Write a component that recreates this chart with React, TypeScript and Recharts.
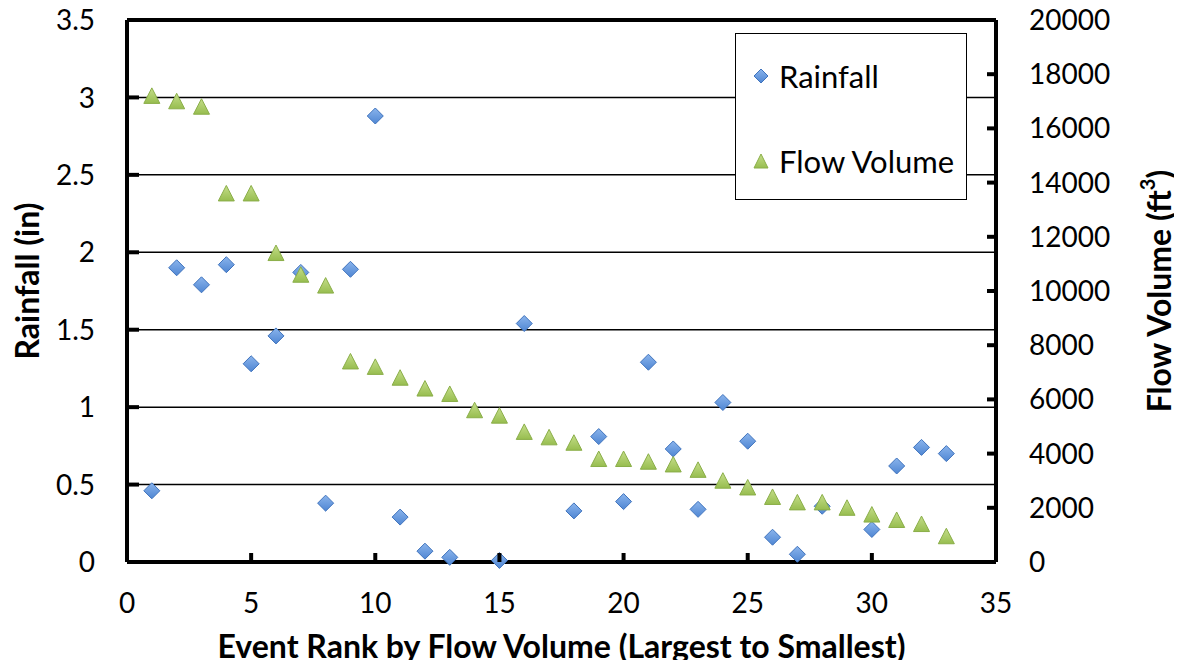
import React from "react";
import { ScatterChart, Scatter, XAxis, YAxis, CartesianGrid, Legend, ReferenceLine } from "recharts";

const rank = [1, 2, 3, 4, 5, 6, 7, 8, 9, 10, 11, 12, 13, 14, 15, 16, 17, 18, 19, 20, 21, 22, 23, 24, 25, 26, 27, 28, 29, 30, 31, 32, 33];
const rainfall = [0.46, 1.9, 1.79, 1.92, 1.28, 1.46, 1.87, 0.38, 1.89, 2.88, 0.29, 0.07, 0.03, null, 0.01, 1.54, null, 0.33, 0.81, 0.39, 1.29, 0.73, 0.34, 1.03, 0.78, 0.16, 0.05, 0.36, null, 0.21, 0.62, 0.74, 0.7];
const flowVolume = [17200, 17000, 16800, 13600, 13600, 11400, 10600, 10200, 7400, 7200, 6800, 6400, 6200, 5600, 5400, 4800, 4600, 4400, 3800, 3800, 3700, 3600, 3400, 3000, 2750, 2400, 2200, 2200, 2000, 1750, 1550, 1400, 950];

const xTicks = [0, 5, 10, 15, 20, 25, 30, 35];
const rainTicks = [0, 0.5, 1, 1.5, 2, 2.5, 3, 3.5];
const flowTicks = [0, 2000, 4000, 6000, 8000, 10000, 12000, 14000, 16000, 18000, 20000];

const rainData = rank.map((r, i) => ({ rank: r, rainfall: rainfall[i] })).filter((d) => d.rainfall !== null);
const flowData = rank.map((r, i) => ({ rank: r, flow: flowVolume[i] }));

const FONT = "Lato, sans-serif";

const Diamond = ({ cx, cy }: any) => (
  <polygon
    points={`${cx},${cy - 8} ${cx + 8},${cy} ${cx},${cy + 8} ${cx - 8},${cy}`}
    fill="url(#blueFill)"
    stroke="#3f73bd"
    strokeWidth={1}
  />
);

const Triangle = ({ cx, cy }: any) => (
  <polygon
    points={`${cx},${cy - 8} ${cx + 8},${cy + 7.5} ${cx - 8},${cy + 7.5}`}
    fill="url(#greenFill)"
    stroke="#8aae48"
    strokeWidth={1}
  />
);

const LeftTick = ({ x, y, payload }: any) => (
  <g>
    <line x1={x + 32} x2={x + 44} y1={y} y2={y} stroke="#000" strokeWidth={4} />
    <text x={x} y={y} dy="0.36em" textAnchor="end" fontSize={28} fontFamily={FONT} fill="#000">
      {payload.value}
    </text>
  </g>
);

const RightTick = ({ x, y, payload }: any) => (
  <g>
    <line x1={x - 33} x2={x - 42} y1={y} y2={y} stroke="#000" strokeWidth={4} />
    <text x={x} y={y} dy="0.36em" textAnchor="start" fontSize={28} fontFamily={FONT} fill="#000">
      {payload.value}
    </text>
  </g>
);

const BottomTick = ({ x, y, payload }: any) => (
  <g>
    <line x1={x} x2={x} y1={y - 41} y2={y - 50} stroke="#000" strokeWidth={4} />
    <text x={x} y={y} dy="0.36em" textAnchor="middle" fontSize={28} fontFamily={FONT} fill="#000">
      {payload.value}
    </text>
  </g>
);

const LegendBox = () => (
  <div
    style={{
      width: 232,
      height: 167,
      boxSizing: "border-box",
      border: "1.5px solid #000",
      background: "#fff",
      position: "relative",
      fontFamily: FONT,
      fontSize: 31,
      color: "#000",
    }}
  >
    <svg width={20} height={20} style={{ position: "absolute", left: 15, top: 32 }}>
      <polygon points="10,3 17,10 10,17 3,10" fill="url(#blueFill)" stroke="#3f73bd" strokeWidth={1} />
    </svg>
    <div style={{ position: "absolute", left: 43, top: 42, transform: "translateY(-50%)", lineHeight: 1, whiteSpace: "nowrap" }}>Rainfall</div>
    <svg width={20} height={20} style={{ position: "absolute", left: 15, top: 117 }}>
      <polygon points="10,3 17,17 3,17" fill="url(#greenFill)" stroke="#8aae48" strokeWidth={1} />
    </svg>
    <div style={{ position: "absolute", left: 43, top: 127, transform: "translateY(-50%)", lineHeight: 1, whiteSpace: "nowrap" }}>Flow Volume</div>
  </div>
);

export default function App() {
  return (
    <div style={{ width: 1166, height: 660, marginBottom: -8 }}>
      <svg width={0} height={0} style={{ position: "absolute" }}>
        <defs>
          <linearGradient id="blueFill" x1="0" y1="0" x2="0" y2="1">
            <stop offset="0%" stopColor="#8ab4ec" />
            <stop offset="100%" stopColor="#4f86d3" />
          </linearGradient>
          <linearGradient id="greenFill" x1="0" y1="0" x2="0" y2="1">
            <stop offset="0%" stopColor="#c5de8a" />
            <stop offset="100%" stopColor="#97bd4f" />
          </linearGradient>
        </defs>
      </svg>
      <ScatterChart width={1166} height={660} margin={{ top: 12, right: 0, bottom: 0, left: 0 }}>
        <CartesianGrid yAxisId="left" vertical={false} stroke="#000" strokeWidth={1.5} />
        <XAxis
          type="number"
          dataKey="rank"
          domain={[0, 35]}
          ticks={xTicks}
          interval={0}
          height={106}
          tickSize={0}
          tickMargin={41}
          tickLine={false}
          axisLine={{ stroke: "#000", strokeWidth: 4 }}
          tick={<BottomTick />}
          label={{
            content: (p: any) => {
              const vb = p.viewBox;
              return (
                <text x={vb.x + vb.width / 2} y={vb.y + 96} textAnchor="middle" fontSize={32} fontWeight={700} fontFamily={FONT} fill="#000">
                  Event Rank by Flow Volume (Largest to Smallest)
                </text>
              );
            },
          }}
        />
        <YAxis
          yAxisId="left"
          type="number"
          dataKey="rainfall"
          domain={[0, 3.5]}
          ticks={rainTicks}
          interval={0}
          width={119}
          tickSize={0}
          tickMargin={32}
          tickLine={false}
          axisLine={{ stroke: "#000", strokeWidth: 4 }}
          tick={<LeftTick />}
          label={{
            content: (p: any) => {
              const vb = p.viewBox;
              const cx = vb.x + 18;
              const cy = vb.y + vb.height / 2 - 10;
              return (
                <text x={cx} y={cy} transform={`rotate(-90 ${cx} ${cy})`} textAnchor="middle" dominantBaseline="central" fontSize={32} fontWeight={700} fontFamily={FONT} fill="#000">
                  Rainfall (in)
                </text>
              );
            },
          }}
        />
        <YAxis
          yAxisId="right"
          orientation="right"
          type="number"
          dataKey="flow"
          domain={[0, 20000]}
          ticks={flowTicks}
          interval={0}
          width={178}
          tickSize={0}
          tickMargin={33}
          tickLine={false}
          axisLine={{ stroke: "#000", strokeWidth: 4 }}
          tick={<RightTick />}
          label={{
            content: (p: any) => {
              const vb = p.viewBox;
              const cx = vb.x + 162;
              const cy = vb.y + vb.height / 2;
              return (
                <text x={cx} y={cy} transform={`rotate(-90 ${cx} ${cy})`} textAnchor="middle" dominantBaseline="central" fontSize={32} fontWeight={700} fontFamily={FONT} fill="#000">
                  <tspan>Flow Volume (ft</tspan>
                  <tspan dy={-11} fontSize={20}>3</tspan>
                  <tspan dy={11}>)</tspan>
                </text>
              );
            },
          }}
        />
        <ReferenceLine yAxisId="left" y={3.5} stroke="#000" strokeWidth={4} />
        <Legend
          layout="horizontal"
          verticalAlign="middle"
          align="center"
          content={<LegendBox />}
          wrapperStyle={{ position: "absolute", top: 25, left: 727, width: 232, height: 167 }}
        />
        <Scatter name="Rainfall" data={rainData} yAxisId="left" shape={<Diamond />} isAnimationActive={false} />
        <Scatter name="Flow Volume" data={flowData} yAxisId="right" shape={<Triangle />} isAnimationActive={false} />
      </ScatterChart>
    </div>
  );
}
